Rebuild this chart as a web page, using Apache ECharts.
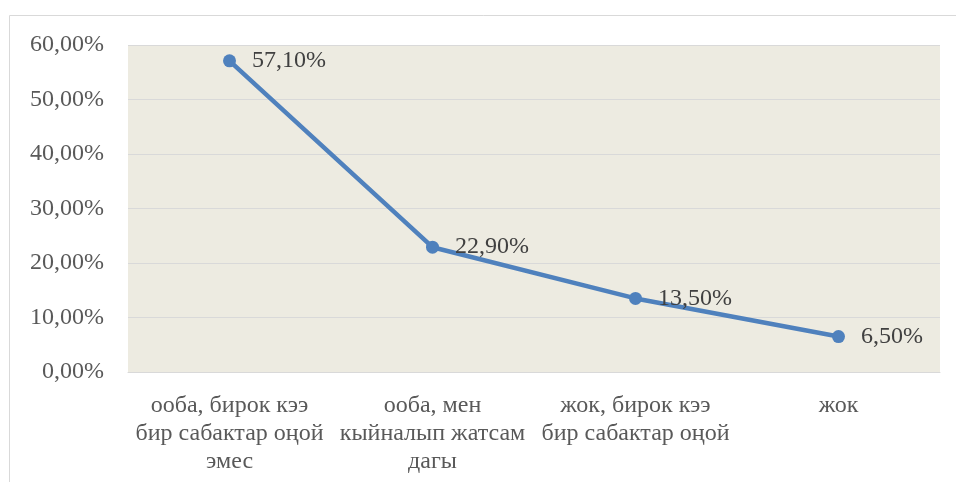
<!DOCTYPE html>
<html><head><meta charset="utf-8">
<script src="https://cdn.jsdelivr.net/npm/echarts@6/dist/echarts.min.js"></script>
<style>html,body{margin:0;padding:0;background:#fff}#c{width:956px;height:482px}</style>
</head><body><div id="c"></div>
<script>
const categories = ["ооба, бирок кээ\nбир сабактар оңой\nэмес", "ооба, мен\nкыйналып жатсам\nдагы", "жок, бирок кээ\nбир сабактар оңой", "жок"];
const values = [57.1, 22.9, 13.5, 6.5];
const yTicks = [0, 10, 20, 30, 40, 50, 60];
const FONT = "Liberation Serif";
const chart = echarts.init(document.getElementById('c'));
chart.setOption({
  animation: false,
  graphic: [{type:'rect', shape:{x:9.5,y:15.5,width:980,height:500}, style:{fill:'none',stroke:'#D9D9D9',lineWidth:1}, z:-10}],
  grid: {left:128, right:16, top:45, bottom:110, show:true, backgroundColor:'#EDEBE1', borderWidth:0},
  xAxis: {type:'category', data:categories, boundaryGap:true,
    axisLine:{show:true, lineStyle:{color:'#D9D9D9', width:1}}, axisTick:{show:false},
    axisLabel:{interval:0, color:'#595959', fontFamily:FONT, fontSize:24, lineHeight:28, margin:20}},
  yAxis: {type:'value', min:yTicks[0], max:yTicks[yTicks.length-1], interval:10,
    axisLine:{show:false}, axisTick:{show:false},
    splitLine:{lineStyle:{color:'#D9D9D9', width:1}},
    axisLabel:{color:'#595959', fontFamily:FONT, fontSize:24, margin:24,
      formatter: v => v.toFixed(2).replace('.', ',') + '%'}},
  series: [{type:'line', data:values, symbol:'circle', symbolSize:13,
    lineStyle:{color:'#4F81BD', width:4.5}, itemStyle:{color:'#4F81BD'},
    label:{show:true, position:'right', distance:16, color:'#404040', fontFamily:FONT, fontSize:24,
      formatter: p => p.value.toFixed(2).replace('.', ',') + '%'}}]
});
</script></body></html>
